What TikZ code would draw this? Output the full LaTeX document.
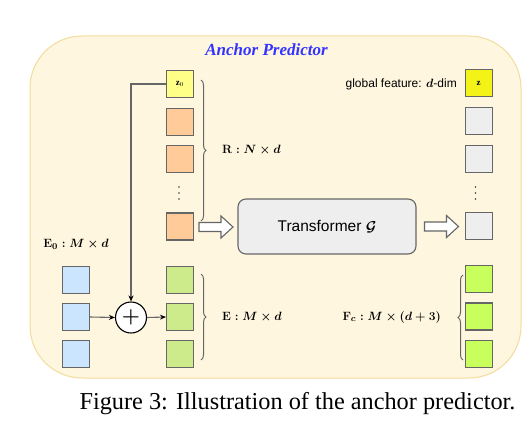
\documentclass[tikz,border=0pt]{standalone}
\usepackage{amsmath,bm}
\usepackage{fontspec}
\setmainfont{Liberation Serif}
\setsansfont{Liberation Sans}
\usetikzlibrary{decorations.pathreplacing,arrows.meta}
\definecolor{bgfill}{HTML}{FFF6E0}
\definecolor{bgline}{HTML}{F2DC9B}
\definecolor{cz0}{HTML}{FFFF88}
\definecolor{cz}{HTML}{F3F317}
\definecolor{corange}{HTML}{FFCC99}
\definecolor{cblue}{HTML}{CCE5FF}
\definecolor{cgreen}{HTML}{CDEB8B}
\definecolor{cfc}{HTML}{C8FF5C}
\definecolor{cgray}{HTML}{EEEEEE}
\definecolor{cline}{HTML}{666666}
\definecolor{ctitle}{HTML}{3333FF}
\tikzset{
  box/.style={draw=cline, line width=1.1pt, minimum size=27pt, inner sep=0pt},
  conn/.style={draw=cline, line width=1.1pt, -{Stealth[length=6pt,width=5pt,color=black]}},
  brc/.style={draw=cline, line width=1pt, decorate, decoration={brace, amplitude=5pt}},
  mlabel/.style={font=\fontsize{12.8}{15}\selectfont\boldmath, inner sep=0pt},
  harrow/.pic={\draw[draw=cline, line width=1.1pt, fill=white] (0,-4.5) -- (22,-4.5) -- (22,-11) -- (34,0) -- (22,11) -- (22,4.5) -- (0,4.5) -- cycle;},
  dotpt/.style={circle, fill=black!75, inner sep=0pt, minimum size=1.6pt}
}
\begin{document}
\begin{tikzpicture}[x=1pt,y=-1pt]
\useasboundingbox (0,0) rectangle (524,444);
% background panel
\node[draw=bgline, line width=1pt, fill=bgfill, rounded corners=52pt, minimum width=491pt, minimum height=342pt, inner sep=0pt] (panel) at (275.5,207) {};
\node[font=\fontsize{17}{20}\selectfont\itshape\bfseries, text=ctitle, anchor=base, inner sep=0pt] (title) at (266.5,56) {Anchor Predictor};
% R column
\node[box, fill=cz0] (z0) at (180,84) {\fontsize{9}{10}\selectfont$\mathbf{z}_0$};
\node[box, fill=corange] (r1) at (180,121.7) {};
\node[box, fill=corange] (r2) at (180,159) {};
\node[dotpt] (rd1) at (179,187) {};
\node[dotpt] (rd2) at (179,193) {};
\node[dotpt] (rd3) at (179,199) {};
\node[box, fill=corange] (r3) at (180,226.5) {};
% E column
\node[box, fill=cgreen] (e1) at (180,279.7) {};
\node[box, fill=cgreen] (e2) at (180,317) {};
\node[box, fill=cgreen] (e3) at (180,354.4) {};
% E0 column
\node[box, fill=cblue] (b1) at (76,279.7) {};
\node[box, fill=cblue] (b2) at (76,317) {};
\node[box, fill=cblue] (b3) at (76,354.4) {};
\node[mlabel] (e0lab) at (76,244) {$\mathbf{E}_0: M\times d$};
% plus
\node[draw=black, line width=1.1pt, circle, fill=white, minimum size=31pt, inner sep=0pt, font=\fontsize{22}{22}\selectfont] (plus) at (131,317.5) {$\boldsymbol{+}$};
\draw[conn] (z0.west) -| (plus.north);
\draw[conn] (b2.east) -- (plus.west);
\draw[conn] (plus.east) -- (e2.west);
% braces
\draw[brc] (201,80) -- (201,221);
\node[mlabel, anchor=west] (rlab) at (222,150) {$\mathbf{R}: N\times d$};
\draw[brc] (201,274) -- (201,360);
\node[mlabel, anchor=west] (elab) at (222,317) {$\mathbf{E}: M\times d$};
% transformer
\node[draw=cline, line width=1.1pt, fill=cgray, rounded corners=8pt, minimum width=178pt, minimum height=55pt, inner sep=0pt, font=\sffamily\fontsize{15.5}{18}\selectfont] (tf) at (327,226.5) {Transformer $\boldsymbol{\mathcal{G}}$};
\pic at (199,227) {harrow};
\pic at (424.5,226.5) {harrow};
% right column
\node[box, fill=cz] (z) at (478.7,83.3) {\fontsize{9}{10}\selectfont$\mathbf{z}$};
\node[box, fill=cgray] (g1) at (478.7,121) {};
\node[box, fill=cgray] (g2) at (478.7,158.7) {};
\node[dotpt] (gd1) at (475.5,187) {};
\node[dotpt] (gd2) at (475.5,193) {};
\node[dotpt] (gd3) at (475.5,199) {};
\node[box, fill=cgray] (g3) at (478.7,226) {};
\node[font=\sffamily\fontsize{12}{14}\selectfont, anchor=east, inner sep=0pt] (glab) at (457,84) {global feature: $\boldsymbol{d}$-dim};
\node[box, fill=cfc] (f1) at (478.7,279) {};
\node[box, fill=cfc] (f2) at (478.7,316.5) {};
\node[box, fill=cfc] (f3) at (478.7,354) {};
\draw[brc] (463,360) -- (463,275);
\node[mlabel, anchor=east] (flab) at (441,317) {$\mathbf{F}_c: M\times(d+3)$};
% caption
\node[font=\fontsize{24.3}{28}\selectfont, anchor=base, inner sep=0pt] (cap) at (297.5,409.5) {Figure 3: Illustration of the anchor predictor.};
\end{tikzpicture}
\end{document}
